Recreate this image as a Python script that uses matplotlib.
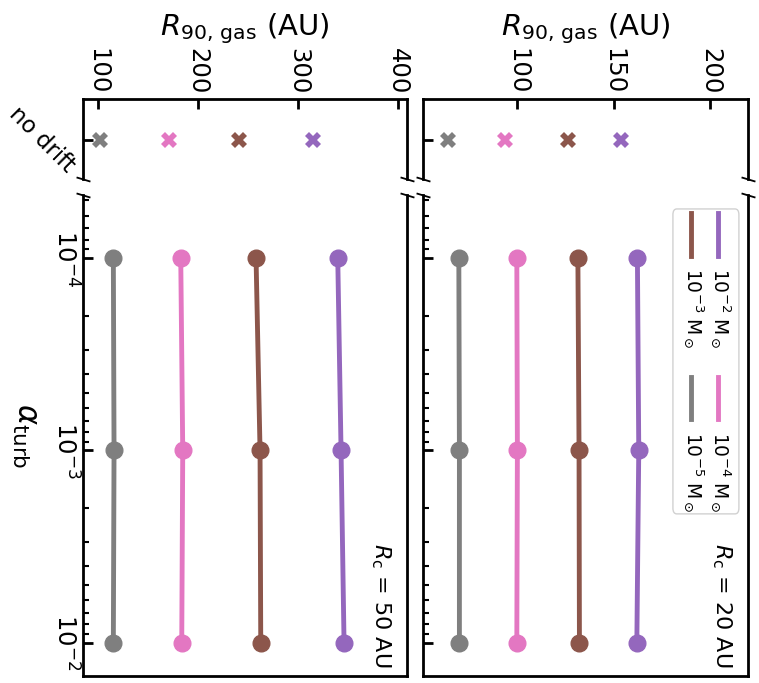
import matplotlib
matplotlib.use("Agg")
import matplotlib.pyplot as plt
from matplotlib.patches import FancyBboxPatch

# alpha_turb values of the drift runs
alpha = [1e-4, 1e-3, 1e-2]

# disc masses, colours (same order in every list below: 1e-2, 1e-3, 1e-4, 1e-5 Msun)
mass_labels = [r"$10^{-2}$ M$_\odot$", r"$10^{-3}$ M$_\odot$",
               r"$10^{-4}$ M$_\odot$", r"$10^{-5}$ M$_\odot$"]
colors = ["tab:purple", "tab:brown", "tab:pink", "tab:gray"]

# R_c = 20 AU : R90,gas (AU) vs alpha
rc20_m2 = [162.3, 163.0, 162.0]
rc20_m3 = [131.4, 132.0, 132.2]
rc20_m4 = [99.7, 100.0, 99.7]
rc20_m5 = [69.6, 69.9, 69.9]
rc20_nodrift = [153.7, 126.2, 93.8, 63.9]

# R_c = 50 AU
rc50_m2 = [340.0, 343.3, 346.3]
rc50_m3 = [258.3, 262.3, 263.0]
rc50_m4 = [183.0, 185.0, 184.0]
rc50_m5 = [115.6, 116.3, 115.6]
rc50_nodrift = [315.6, 241.6, 171.6, 102.0]

fig = plt.figure(figsize=(7.59, 6.83), dpi=100)


def panel(left, width, runs, nodrift, xlim, xticks, rc_text, first):
    # small box on top with the no drift models
    top = fig.add_axes([left, 0.7379, width, 0.1171])
    main = fig.add_axes([left, 0.0103, width, 0.7042])

    for i in range(4):
        top.plot(nodrift[i], 0, "X", color=colors[i], ms=11, mew=0)
        main.plot(runs[i], alpha, "-o", color=colors[i], lw=3.5, ms=12)

    top.set_xlim(xlim)
    top.set_ylim(-0.98, 1.02)
    top.xaxis.tick_top()
    top.set_xticks(xticks)
    top.tick_params(axis="x", which="both", direction="in", length=7, width=2,
                    labelsize=17.5, labelrotation=270, top=True, bottom=False)
    top.set_yticks([0])
    top.tick_params(axis="y", direction="in", length=7, width=2, labelsize=16.5, pad=3)
    if first:
        top.set_yticklabels(["no drift"], rotation=-45, va="center")
    else:
        top.set_yticklabels([])
    top.spines["bottom"].set_visible(False)
    top.xaxis.set_label_position("top")
    top.set_xlabel(r"$R_{90,\,\mathrm{gas}}$ (AU)", fontsize=21, labelpad=9)

    main.set_xlim(xlim)
    main.set_yscale("log")
    main.set_ylim(1.49e-2, 4.69e-5)
    main.set_xticks([])
    main.spines["top"].set_visible(False)
    main.tick_params(axis="y", which="major", direction="in", length=7, width=2, labelsize=17.5)
    main.tick_params(axis="y", which="minor", direction="in", length=4, width=1.5)
    main.set_yticks(alpha)
    if first:
        main.set_yticklabels([r"$10^{-4}$", r"$10^{-3}$", r"$10^{-2}$"],
                             rotation=270, va="center")
    else:
        main.set_yticklabels([])

    for ax in (top, main):
        for s in ax.spines.values():
            s.set_linewidth(2)

    # break marks
    d = 0.3
    kw = dict(marker=[(-1, d), (1, -d)], markersize=10, linestyle="none",
              color="k", mec="k", mew=1.3, clip_on=False)
    top.plot([0, 1], [0, 0], transform=top.transAxes, **kw)
    main.plot([0, 1], [1, 1], transform=main.transAxes, **kw)

    main.text(0.92, 0.148, rc_text, rotation=270, ha="center", va="center",
              fontsize=16, transform=main.transAxes)
    return top, main


t50, m50 = panel(0.1094, 0.4269, [rc50_m2, rc50_m3, rc50_m4, rc50_m5], rc50_nodrift,
                 (85.3, 409.3), [100, 200, 300, 400], r"$R_{\rm c}$ = 50 AU", True)
t20, m20 = panel(0.5573, 0.4282, [rc20_m2, rc20_m3, rc20_m4, rc20_m5], rc20_nodrift,
                 (51.0, 219.7), [100, 150, 200], r"$R_{\rm c}$ = 20 AU", False)

m50.text(-0.182, 0.5, r"$\alpha_{\rm turb}$", rotation=270, ha="center", va="center",
         fontsize=22, transform=m50.transAxes)

# legend drawn by hand (it is turned like the rest of the figure)
m20.add_patch(FancyBboxPatch((0.769, 0.337), 0.203, 0.634,
                             boxstyle="round,pad=0,rounding_size=0.012",
                             transform=m20.transAxes, fc="white", ec="0.8", lw=1,
                             alpha=0.9, zorder=5))
hx = [0.908, 0.825, 0.908, 0.825]
hy = [(0.963, 0.873), (0.963, 0.873), (0.622, 0.534), (0.622, 0.534)]
ty = [0.848, 0.848, 0.507, 0.507]
for i in range(4):
    m20.plot([hx[i], hx[i]], hy[i], color=colors[i], lw=3.5,
             transform=m20.transAxes, zorder=6)
    m20.text(hx[i] + 0.006, ty[i], mass_labels[i], rotation=270, ha="center", va="top",
             fontsize=13.5, transform=m20.transAxes, zorder=6)

fig.savefig("out.png", dpi=100)
